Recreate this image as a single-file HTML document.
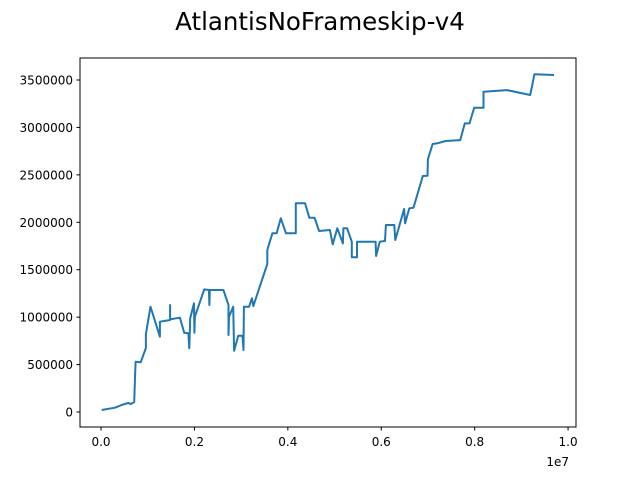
<!DOCTYPE html>
<html><head><meta charset="utf-8"><style>
body{margin:0;background:#fff}
svg text{font-family:"DejaVu Sans","Liberation Sans",sans-serif;fill:#000}
</style></head><body>
<svg width="640" height="480">
<text x="320" y="30" font-size="24.5" text-anchor="middle">AtlantisNoFrameskip-v4</text>
<g id="axes"></g>
<path id="line" fill="none" stroke="#1f77b4" stroke-width="2" stroke-linejoin="round"/>
<rect x="80" y="58" width="496" height="369" fill="none" stroke="#000" stroke-width="1"/>
<text x="569" y="466" font-size="12" text-anchor="end">1e7</text>
</svg>
<script>
const xs=[.0015,.030,.044,.058,.064,.071,.073,.074,.085,.096,.096,.106,.126,.126,.148,.148,.148,.169,.178,.187,.189,.191,.199,.200,.201,.221,.231,.232,.233,.262,.273,.273,.274,.283,.285,.294,.303,.305,.306,.317,.323,.326,.356,.356,.367,.376,.385,.396,.417,.417,.437,.446,.457,.467,.490,.496,.506,.518,.519,.527,.537,.537,.548,.548,.588,.589,.597,.608,.610,.628,.630,.649,.651,.660,.669,.689,.699,.700,.710,.720,.738,.769,.779,.789,.799,.819,.819,.869,.919,.928,.970];
const ys=[.021,.045,.074,.095,.084,.105,.39,.53,.524,.675,.822,1.11,.794,.952,.97,1.128,.977,.994,.836,.83,.672,.988,1.146,.836,1.005,1.293,1.286,1.128,1.286,1.286,1.128,.812,1.005,1.11,.646,.804,.804,.654,1.11,1.11,1.199,1.117,1.56,1.708,1.884,1.884,2.042,1.884,1.884,2.2,2.2,2.048,2.048,1.908,1.919,1.768,1.937,1.778,1.937,1.937,1.795,1.631,1.631,1.795,1.795,1.645,1.795,1.803,1.971,1.971,1.813,2.14,1.989,2.147,2.154,2.488,2.491,2.664,2.825,2.833,2.857,2.867,3.043,3.043,3.208,3.208,3.377,3.394,3.342,3.56,3.553];
const xTicks=[0,0.2,0.4,0.6,0.8,1.0];
const xTickLabels=["0.0","0.2","0.4","0.6","0.8","1.0"];
const yTicks=[0,0.5,1,1.5,2,2.5,3,3.5];
const yTickLabels=["0","500000","1000000","1500000","2000000","2500000","3000000","3500000"];
const X=v=>80+(v+0.045)/(1.017+0.045)*496;
const Y=v=>427-(v+0.158)/(3.732+0.158)*369;
const NS="http://www.w3.org/2000/svg";
const ax=document.getElementById('axes');
function mk(t,a){const e=document.createElementNS(NS,t);for(const k in a)e.setAttribute(k,a[k]);ax.appendChild(e);return e;}
xTicks.forEach((v,i)=>{
 const l=mk('line',{x1:X(v),x2:X(v),y1:427,y2:430.5,stroke:'#000'});
 
 
 const t=mk('text',{x:X(v),y:446,'font-size':12,'text-anchor':'middle'});
 t.textContent=xTickLabels[i];
 
 
});
yTicks.forEach((v,i)=>{
 const l=mk('line',{x1:76.5,x2:80,y1:Y(v),y2:Y(v),stroke:'#000'});
 
 
 const t=mk('text',{x:73,y:Y(v)+4.5,'font-size':12,'text-anchor':'end'});
 t.textContent=yTickLabels[i];
 
 
});
document.getElementById('line').setAttribute('d',xs.map((v,i)=>(i?'L':'M')+X(v).toFixed(1)+','+Y(ys[i]).toFixed(1)).join(''));
</script>
</body></html>
